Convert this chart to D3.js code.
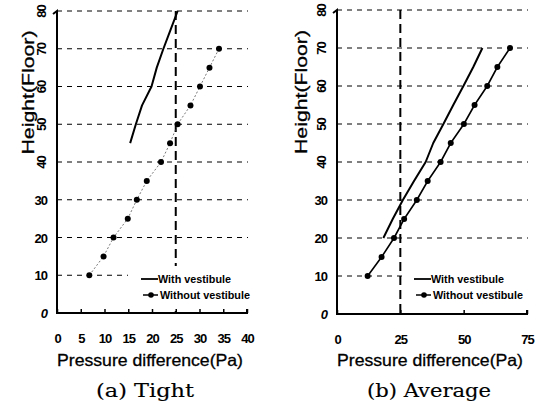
<!DOCTYPE html>
<html><head><meta charset="utf-8">
<script src="https://cdn.jsdelivr.net/npm/d3@7"></script>
<style>
html,body{margin:0;padding:0;background:#fff;}
svg{display:block;}
</style></head>
<body>
<svg id="c" width="539" height="412"></svg>
<script>
// ---------- data ----------
const floorTicks = [0,10,20,30,40,50,60,70,80];
const tightXTicks = [0,5,10,15,20,25,30,35,40];
const averageXTicks = [0,25,50,75];

const tightWithFloors = [45,50,55,60,65,70,75,80];
const tightWithP      = [15.4,16.6,17.9,19.9,21.0,22.4,23.9,25.4];
const tightWithoutFloors = [10,15,20,25,30,35,40,45,50,55,60,65,70];
const tightWithoutP      = [6.8,9.8,11.9,14.9,16.8,18.9,21.9,23.8,25.4,28.1,30.1,32.1,34.1];

const avgWithFloors = [20,25,30,35,40,45,50,55,60,65,70];
const avgWithP      = [18.3,22.0,26.0,30.4,35.0,38.0,42.0,45.9,49.9,53.8,57.4];
const avgWithoutFloors = [10,15,20,25,30,35,40,45,50,55,60,65,70];
const avgWithoutP      = [12.1,17.6,22.5,26.5,31.5,35.8,40.9,44.9,50.1,54.3,59.3,63.3,68.3];

const legendLabels = ["With vestibule","Without vestibule"];
const captions = ["(a)  Tight","(b)  Average"];
const yTitle = "Height(Floor)";
const xTitle = "Pressure difference(Pa)";
const refPressure = 25;

// ---------- drawing ----------
const svg = d3.select("#c");
const sans = "'Liberation Sans', Arial, sans-serif";
const serif = "'DejaVu Serif', 'Liberation Serif', serif";

const panels = [
  {xd:[0,40], xr:[57,247], yr:[313,11], xt:tightXTicks,
   withF:tightWithFloors, withP:tightWithP, woF:tightWithoutFloors, woP:tightWithoutP,
   woLine:{w:0.8, dash:"2,2", col:"#555"}, caption:captions[0], capX:145, capW:98,
   yTitleX:28, legX:141, boxX:128, boxY2:311, gridEnd:248},
  {xd:[0,75], xr:[337,527], yr:[314,10], xt:averageXTicks,
   withF:avgWithFloors, withP:avgWithP, woF:avgWithoutFloors, woP:avgWithoutP,
   woLine:{w:1.6, dash:null, col:"#000"}, caption:captions[1], capX:429, capW:124,
   yTitleX:301, legX:414, boxX:404, boxY2:305, gridEnd:528}
];

panels.forEach(p => {
  const x = d3.scaleLinear().domain(p.xd).range(p.xr);
  const y = d3.scaleLinear().domain([0,80]).range(p.yr);
  const g = svg.append("g");
  const x0 = x(0);

  // horizontal dashed grid
  g.selectAll(".grid").data(floorTicks.filter(d=>d>0)).join("line")
    .attr("x1", x0).attr("x2", p.gridEnd)
    .attr("y1", d=>y(d)).attr("y2", d=>y(d))
    .attr("stroke","#000").attr("stroke-width",1).attr("stroke-dasharray","5,5");

  // vertical reference dashed line
  g.append("line").attr("x1", x(refPressure)).attr("x2", x(refPressure))
    .attr("y1", y(80)).attr("y2", y(0))
    .attr("stroke","#000").attr("stroke-width",2).attr("stroke-dasharray","9,5");

  // lines
  const line = d3.line().x(d=>x(d[0])).y(d=>y(d[1]));
  const withPts = p.withP.map((v,i)=>[v,p.withF[i]]);
  const woPts = p.woP.map((v,i)=>[v,p.woF[i]]);
  g.append("path").attr("d", line(withPts)).attr("fill","none")
    .attr("stroke","#000").attr("stroke-width",2).attr("stroke-linejoin","round");
  g.append("path").attr("d", line(woPts)).attr("fill","none")
    .attr("stroke",p.woLine.col).attr("stroke-width",p.woLine.w)
    .attr("stroke-dasharray",p.woLine.dash);
  g.selectAll(".mk").data(woPts).join("circle")
    .attr("cx",d=>x(d[0])).attr("cy",d=>y(d[1])).attr("r",3).attr("fill","#000");

  // legend box (white, hides grid)
  const lx = p.legX, ly1 = 279, ly2 = 295;
  g.append("rect").attr("x",p.boxX).attr("y",266).attr("width",p.gridEnd+2-p.boxX).attr("height",p.boxY2-266)
    .attr("fill","#fff");
  g.append("line").attr("x1",lx).attr("x2",lx+17).attr("y1",ly1).attr("y2",ly1)
    .attr("stroke","#000").attr("stroke-width",1.8);
  g.append("line").attr("x1",lx+2).attr("x2",lx+17).attr("y1",ly2).attr("y2",ly2)
    .attr("stroke","#000").attr("stroke-width",1.5);
  g.append("circle").attr("cx",lx+10).attr("cy",ly2).attr("r",2.8).attr("fill","#000");
  g.append("text").attr("x",lx+17).attr("y",ly1).attr("dy","0.35em")
    .attr("font-family",sans).attr("font-weight","bold").attr("font-size",11.5)
    .attr("textLength",73).attr("lengthAdjust","spacingAndGlyphs").text(legendLabels[0]);
  g.append("text").attr("x",lx+19).attr("y",ly2).attr("dy","0.35em")
    .attr("font-family",sans).attr("font-weight","bold").attr("font-size",11.5)
    .attr("textLength",90).attr("lengthAdjust","spacingAndGlyphs").text(legendLabels[1]);

  // axes lines
  g.append("path")
    .attr("d", `M${x0-4},${y(80)+3} L${x0},${y(80)} L${x0},${y(0)} L${p.xr[1]},${y(0)} L${p.xr[1]},${y(0)-4}`)
    .attr("fill","none").attr("stroke","#000").attr("stroke-width",2);

  // x ticks (inner)
  const xAxis = d3.axisBottom(x).tickValues(p.xt).tickSize(0).tickPadding(0).tickFormat(d3.format("d"));
  const xa = g.append("g").attr("transform",`translate(0,${y(0)})`).call(xAxis);
  xa.select(".domain").remove();
  xa.selectAll(".tick").append("line").attr("y1",0).attr("y2",-4).attr("stroke","#000").attr("stroke-width",1.5);
  xa.selectAll(".tick text").attr("y",30).attr("dy",0)
    .attr("font-family",sans).attr("font-weight","bold").attr("font-size",13)
    .attr("letter-spacing",-1).attr("fill","#000");

  // y ticks
  const yAxis = d3.axisLeft(y).tickValues(floorTicks).tickSize(0).tickPadding(0);
  const ya = g.append("g").attr("transform",`translate(${x0},0)`).call(yAxis);
  ya.select(".domain").remove();
  ya.selectAll(".tick text").attr("fill","#000")
    .attr("font-family",sans).attr("font-weight","bold").attr("font-size",13)
    .attr("letter-spacing",-1)
    .attr("font-style", d=> d===0 ? "italic" : "normal")
    .each(function(d){
      const t = d3.select(this);
      if (d >= 40) {
        t.attr("x",0).attr("dy",0).attr("text-anchor","middle")
         .attr("transform",`translate(-16,0) rotate(-90)`).attr("dominant-baseline","central");
      } else {
        t.attr("x",-10).attr("dy","0.35em").attr("text-anchor","end");
      }
    });

  // titles
  g.append("text").attr("transform",`translate(${p.yTitleX},${(y(80)+y(40))/2+6}) rotate(-90)`)
    .attr("text-anchor","middle").attr("dy","0.35em")
    .attr("font-family",sans).attr("font-size",17).attr("stroke","#000").attr("stroke-width",0.3)
    .attr("textLength",124).attr("lengthAdjust","spacingAndGlyphs").text(yTitle);
  g.append("text").attr("x",x0).attr("y",360).attr("dy","0.35em")
    .attr("font-family",sans).attr("font-size",16.5).attr("stroke","#000").attr("stroke-width",0.3)
    .attr("textLength",186).attr("lengthAdjust","spacingAndGlyphs").text(xTitle);
  g.append("text").attr("x",p.capX - p.capW/2).attr("y",391).attr("dy","0.35em")
    .attr("font-family",serif).attr("font-size",18).attr("stroke","#000").attr("stroke-width",0.15)
    .attr("textLength",p.capW).attr("lengthAdjust","spacingAndGlyphs")
    .text(p.caption);
});
</script>
</body></html>
